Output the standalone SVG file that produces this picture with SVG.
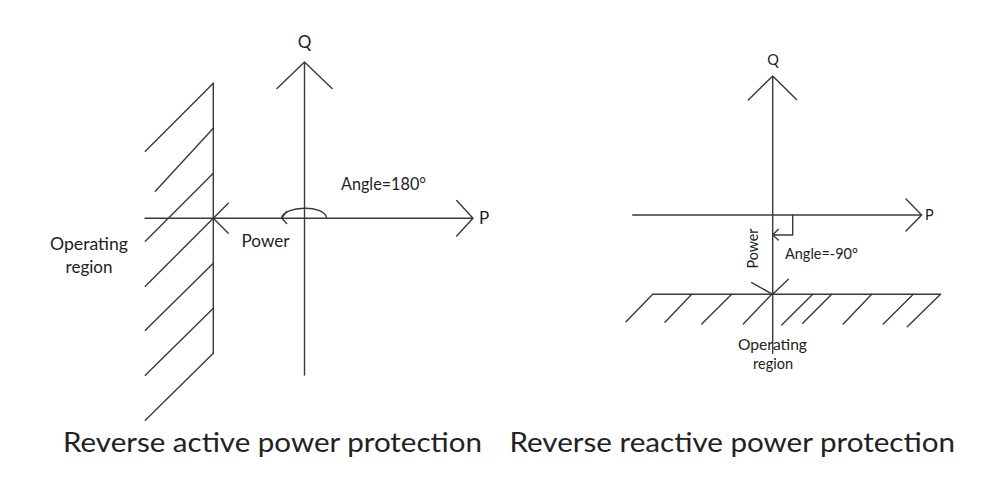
<svg xmlns="http://www.w3.org/2000/svg" width="1000" height="499" viewBox="0 0 1000 499">
<style>
.ln{stroke:#3a3a3a;stroke-width:1.4;fill:none;stroke-linecap:round;stroke-linejoin:round}
.t{font-family:Lato,"Open Sans",sans-serif;fill:#222}
.lab{font-size:17px}
.sm{font-size:14.5px}
.title{font-size:26px}
</style>
<rect width="1000" height="499" fill="#fff"/>
<g id="left-diagram">
  <g id="left-axes">
    <path class="ln" d="M304.5,375 V62 M277,88.5 L304.5,62 L332,88.5"/>
    <path class="ln" d="M145,218.3 H473 M456.7,200.5 L473,218.3 L456.7,236"/>
    <text class="t lab" x="304.5" y="48" text-anchor="middle">Q</text>
    <text class="t lab" x="479" y="224">P</text>
  </g>
  <g id="left-boundary">
    <path class="ln" d="M213.3,83.3 V353.3"/>
    <path class="ln" d="M213.3,83.3 l-68,68 M213.3,128.3 l-58,63 M213.3,173.3 l-68,68 M213.3,218.3 l-68,68 M213.3,263.3 l-68,67 M213.3,308.3 l-68,67 M213.3,353.3 l-68,67"/>
  </g>
  <g id="left-power">
    <path class="ln" d="M228.3,203.3 L213.3,218.3 L228.3,233.3"/>
    <text class="t lab" x="241.5" y="246.5" textLength="48" lengthAdjust="spacingAndGlyphs">Power</text>
  </g>
  <g id="left-angle">
    <path class="ln" d="M281.7,218 C284,206 324,204 326.7,218"/>
    <path class="ln" d="M286.7,211.5 L281.7,218 L286.7,223.5"/>
    <text class="t lab" x="341" y="190" textLength="85" lengthAdjust="spacingAndGlyphs">Angle=180°</text>
  </g>
  <g id="left-region">
    <text class="t lab" x="89" y="250" text-anchor="middle" textLength="78" lengthAdjust="spacingAndGlyphs">Operating</text>
    <text class="t lab" x="89" y="273" text-anchor="middle">region</text>
  </g>
  <text class="t title" x="63" y="451.5" textLength="419" lengthAdjust="spacingAndGlyphs">Reverse active power protection</text>
</g>
<g id="right-diagram">
  <g id="right-axes">
    <path class="ln" d="M772.7,353.3 V76 M748.3,100 L772.7,76 L796.5,99.5"/>
    <path class="ln" d="M632.7,215 H921.7 M906,199 L921.7,215 L906,231"/>
    <text class="t sm" x="773" y="65" text-anchor="middle">Q</text>
    <text class="t sm" x="925" y="220">P</text>
  </g>
  <g id="right-boundary">
    <path class="ln" d="M652.7,294.3 H940.5"/>
    <path class="ln" d="M652.7,294.3 L626,321.7 M691.7,294.3 L665,322.3 M731.7,294.3 L701.7,324 M771.7,294.3 L743.3,324 M812.7,294.3 L781.7,325 M831.7,294.3 L802.7,323.3 M871.7,294.3 L843.3,324 M913.3,294.3 L883.3,324 M940.5,294.3 L907.3,326.7"/>
  </g>
  <g id="right-power">
    <path class="ln" d="M751.7,282.7 L772.7,294.3 L788.3,279.3"/>
    <text class="t sm" transform="translate(757.5,268.5) rotate(-90)" textLength="40" lengthAdjust="spacingAndGlyphs">Power</text>
  </g>
  <g id="right-angle">
    <path class="ln" d="M792.7,215 V235 H772.7 M778.3,229.3 L772.7,235 L778.3,240"/>
    <text class="t sm" x="785" y="258.5" textLength="73" lengthAdjust="spacingAndGlyphs">Angle=-90°</text>
  </g>
  <g id="right-region">
    <text class="t sm" x="772.5" y="350" text-anchor="middle" textLength="69" lengthAdjust="spacingAndGlyphs">Operating</text>
    <text class="t sm" x="773" y="368.5" text-anchor="middle">region</text>
  </g>
  <text class="t title" x="509.5" y="451.5" textLength="445.5" lengthAdjust="spacingAndGlyphs">Reverse reactive power protection</text>
</g>
</svg>
